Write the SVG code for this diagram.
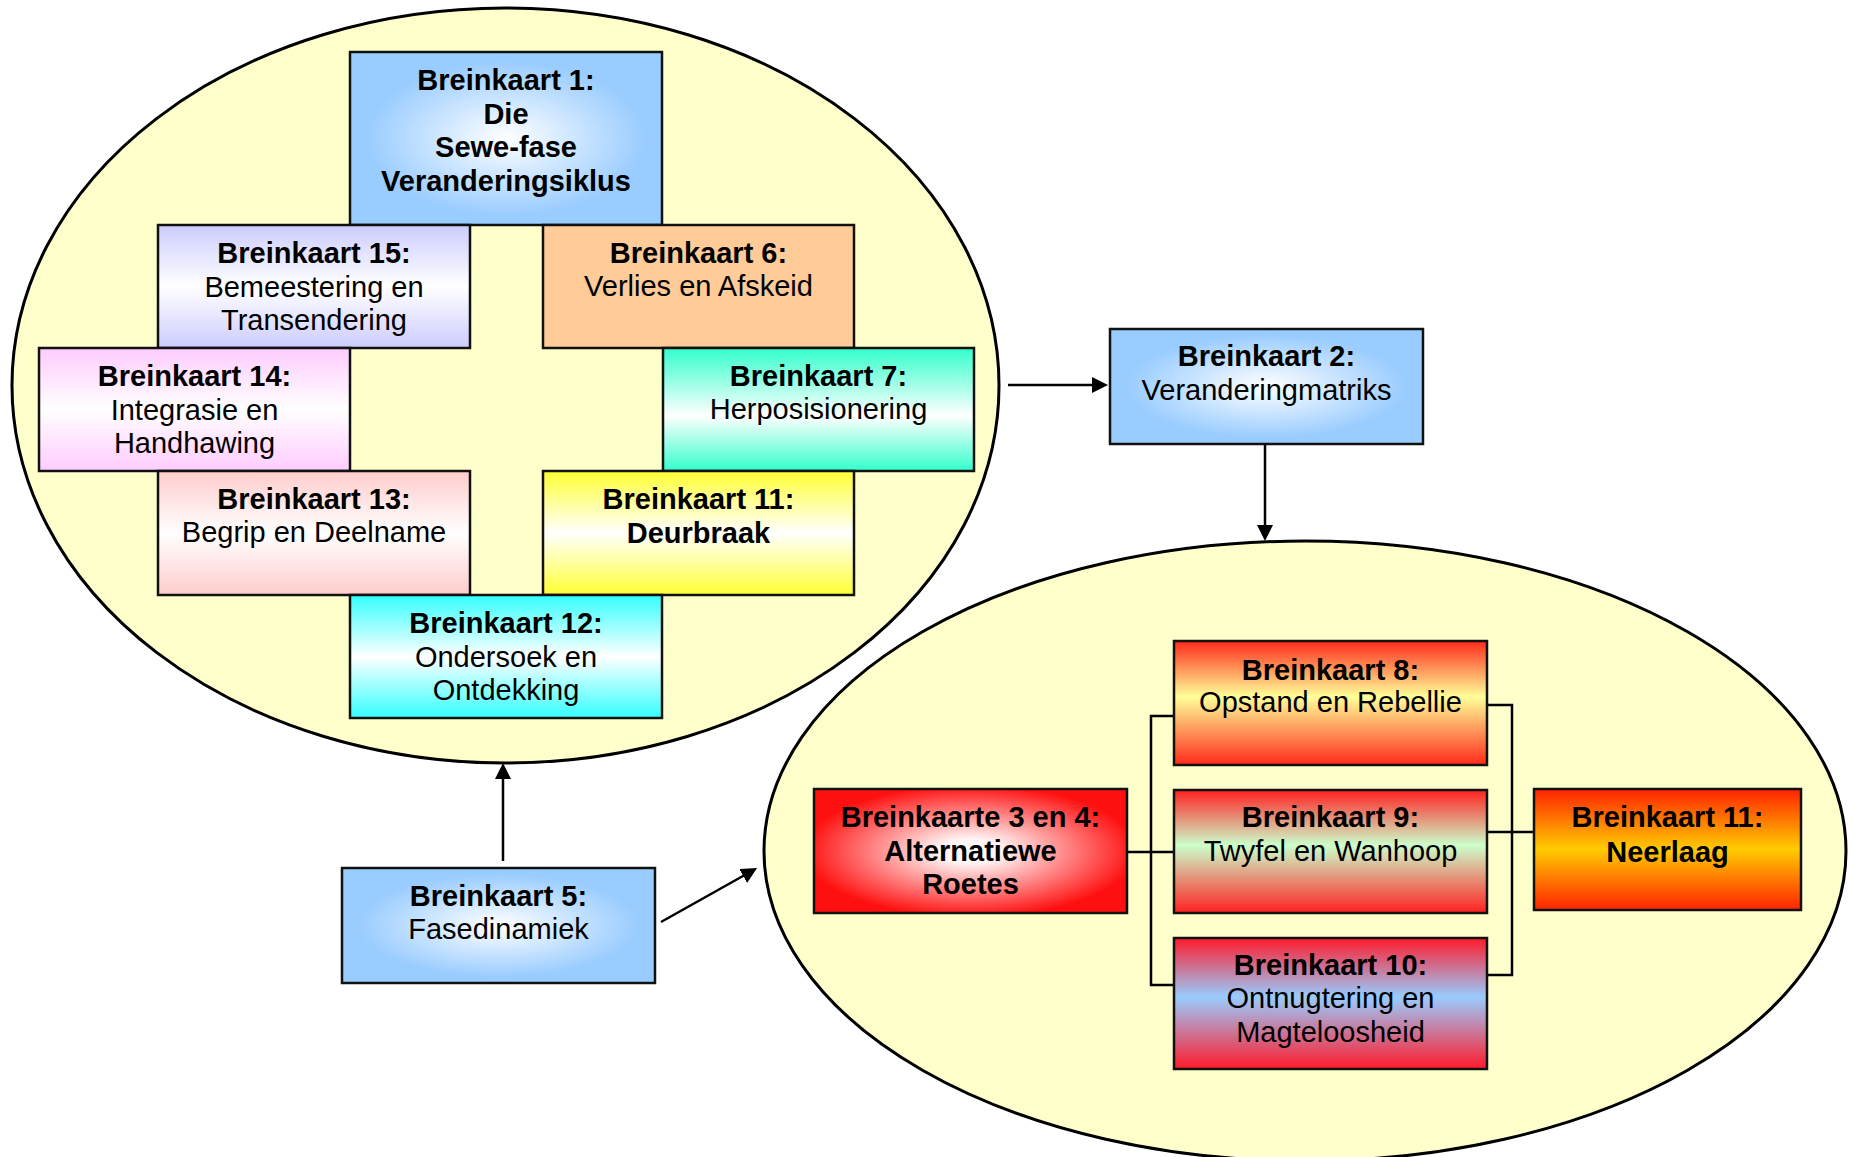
<svg xmlns="http://www.w3.org/2000/svg" width="1854" height="1157" viewBox="0 0 1854 1157">
  <defs>
    <style>
      .oval { fill: #FFFFCC; stroke: #000; stroke-width: 3; }
      .box { stroke: #111; stroke-width: 2.5; }
      .t { font-family: "Liberation Sans", Arial, Helvetica, sans-serif; font-size: 29px; text-anchor: middle; fill: #000; }
      .b { font-weight: bold; }
      .conn { stroke: #000; stroke-width: 2.5; fill: none; }
    </style>
    <!-- centre-out fades -->
    <radialGradient id="gBlue" cx="50%" cy="50%" r="60%">
      <stop offset="0" stop-color="#FFFFFF"/>
      <stop offset="0.75" stop-color="#99CCFF"/>
    </radialGradient>
    <radialGradient id="gRedWhite" cx="50%" cy="50%" r="65%">
      <stop offset="0" stop-color="#FFFFFF"/>
      <stop offset="0.15" stop-color="#FFF4F4"/>
      <stop offset="0.82" stop-color="#FF1010"/>
    </radialGradient>
    <!-- top/bottom fades through a middle colour -->
    <linearGradient id="gLav" x1="0" y1="0" x2="0" y2="1">
      <stop offset="0" stop-color="#CCCCFF"/>
      <stop offset="0.5" stop-color="#FFFFFF"/>
      <stop offset="1" stop-color="#CCCCFF"/>
    </linearGradient>
    <linearGradient id="gPink" x1="0" y1="0" x2="0" y2="1">
      <stop offset="0" stop-color="#FFCCFF"/>
      <stop offset="0.5" stop-color="#FFFFFF"/>
      <stop offset="1" stop-color="#FFCCFF"/>
    </linearGradient>
    <linearGradient id="gAqua" x1="0" y1="0" x2="0" y2="1">
      <stop offset="0" stop-color="#33FFCC"/>
      <stop offset="0.55" stop-color="#FFFFFF"/>
      <stop offset="1" stop-color="#33FFCC"/>
    </linearGradient>
    <linearGradient id="gRose" x1="0" y1="0" x2="0" y2="1">
      <stop offset="0" stop-color="#FFCCCC"/>
      <stop offset="0.5" stop-color="#FFFFFF"/>
      <stop offset="1" stop-color="#FFCCCC"/>
    </linearGradient>
    <linearGradient id="gYellow" x1="0" y1="0" x2="0" y2="1">
      <stop offset="0" stop-color="#FFFF33"/>
      <stop offset="0.5" stop-color="#FFFFFF"/>
      <stop offset="1" stop-color="#FFFF33"/>
    </linearGradient>
    <linearGradient id="gCyan" x1="0" y1="0" x2="0" y2="1">
      <stop offset="0" stop-color="#33FFFF"/>
      <stop offset="0.5" stop-color="#FFFFFF"/>
      <stop offset="1" stop-color="#33FFFF"/>
    </linearGradient>
    <linearGradient id="gRedCream" x1="0" y1="0" x2="0" y2="1">
      <stop offset="0" stop-color="#FF2A1A"/>
      <stop offset="0.45" stop-color="#FFFF99"/>
      <stop offset="1" stop-color="#FF2A1A"/>
    </linearGradient>
    <linearGradient id="gRedMint" x1="0" y1="0" x2="0" y2="1">
      <stop offset="0" stop-color="#FF2020"/>
      <stop offset="0.45" stop-color="#CCFFCC"/>
      <stop offset="1" stop-color="#FF2020"/>
    </linearGradient>
    <linearGradient id="gRedSky" x1="0" y1="0" x2="0" y2="1">
      <stop offset="0" stop-color="#FF1A2A"/>
      <stop offset="0.45" stop-color="#99CCFF"/>
      <stop offset="1" stop-color="#FF1A2A"/>
    </linearGradient>
    <linearGradient id="gFire" x1="0" y1="0" x2="0" y2="1">
      <stop offset="0" stop-color="#FF2200"/>
      <stop offset="0.5" stop-color="#FFCC00"/>
      <stop offset="1" stop-color="#FF2200"/>
    </linearGradient>
    <marker id="arrow" markerUnits="userSpaceOnUse" viewBox="0 0 16 16" markerWidth="16" markerHeight="16" refX="9" refY="8" orient="auto">
      <path d="M0,0 L16,8 L0,16 z" fill="#000"/>
    </marker>
  </defs>

  <rect x="0" y="0" width="1854" height="1157" fill="#FFFFFF"/>

  <!-- seven-phase cycle container -->
  <g id="cycle-oval">
    <ellipse class="oval" cx="505.5" cy="385.5" rx="493.5" ry="377.5"/>
  </g>

  <!-- alternative routes container (runs off the bottom edge) -->
  <g id="routes-oval">
    <ellipse class="oval" cx="1305" cy="851" rx="541" ry="310"/>
  </g>

  <!-- connectors -->
  <g id="connectors">
    <line class="conn" x1="1008" y1="385" x2="1101" y2="385" marker-end="url(#arrow)"/>
    <line class="conn" x1="1265" y1="445" x2="1265" y2="534" marker-end="url(#arrow)"/>
    <line class="conn" x1="503" y1="861" x2="503" y2="770" marker-end="url(#arrow)"/>
    <line class="conn" x1="661" y1="922" x2="751" y2="871.5" marker-end="url(#arrow)"/>
    <!-- fan-out from routes 3/4 to maps 8, 9, 10 -->
    <polyline class="conn" points="1174,716 1151,716 1151,985 1174,985"/>
    <line class="conn" x1="1127" y1="852" x2="1174" y2="852"/>
    <!-- fan-in from maps 8, 9, 10 to map 11 -->
    <polyline class="conn" points="1487,705 1512,705 1512,975 1487,975"/>
    <line class="conn" x1="1487" y1="832" x2="1534" y2="832"/>
  </g>

  <g id="node-bk1">
    <rect class="box" x="350" y="52" width="312" height="173" fill="url(#gBlue)"/>
    <text class="t b" x="506" y="90">Breinkaart 1:</text>
    <text class="t b" x="506" y="124">Die</text>
    <text class="t b" x="506" y="157">Sewe-fase</text>
    <text class="t b" x="506" y="191">Veranderingsiklus</text>
  </g>

  <g id="node-bk15">
    <rect class="box" x="158" y="225" width="312" height="123" fill="url(#gLav)"/>
    <text class="t b" x="314" y="263">Breinkaart 15:</text>
    <text class="t" x="314" y="297">Bemeestering en</text>
    <text class="t" x="314" y="330">Transendering</text>
  </g>

  <g id="node-bk6">
    <rect class="box" x="543" y="225" width="311" height="123" fill="#FFCC99"/>
    <text class="t b" x="698.5" y="263">Breinkaart 6:</text>
    <text class="t" x="698.5" y="296">Verlies en Afskeid</text>
  </g>

  <g id="node-bk14">
    <rect class="box" x="39" y="348" width="311" height="123" fill="url(#gPink)"/>
    <text class="t b" x="194.5" y="386">Breinkaart 14:</text>
    <text class="t" x="194.5" y="420">Integrasie en</text>
    <text class="t" x="194.5" y="453">Handhawing</text>
  </g>

  <g id="node-bk7">
    <rect class="box" x="663" y="348" width="311" height="123" fill="url(#gAqua)"/>
    <text class="t b" x="818.5" y="386">Breinkaart 7:</text>
    <text class="t" x="818.5" y="419">Herposisionering</text>
  </g>

  <g id="node-bk13">
    <rect class="box" x="158" y="471" width="312" height="124" fill="url(#gRose)"/>
    <text class="t b" x="314" y="509">Breinkaart 13:</text>
    <text class="t" x="314" y="542">Begrip en Deelname</text>
  </g>

  <g id="node-bk11-deurbraak">
    <rect class="box" x="543" y="471" width="311" height="124" fill="url(#gYellow)"/>
    <text class="t b" x="698.5" y="509">Breinkaart 11:</text>
    <text class="t b" x="698.5" y="543">Deurbraak</text>
  </g>

  <g id="node-bk12">
    <rect class="box" x="350" y="595" width="312" height="123" fill="url(#gCyan)"/>
    <text class="t b" x="506" y="633">Breinkaart 12:</text>
    <text class="t" x="506" y="667">Ondersoek en</text>
    <text class="t" x="506" y="700">Ontdekking</text>
  </g>

  <g id="node-bk2">
    <rect class="box" x="1110" y="329" width="313" height="115" fill="url(#gBlue)"/>
    <text class="t b" x="1266.5" y="366">Breinkaart 2:</text>
    <text class="t" x="1266.5" y="400">Veranderingmatriks</text>
  </g>

  <g id="node-bk5">
    <rect class="box" x="342" y="868" width="313" height="115" fill="url(#gBlue)"/>
    <text class="t b" x="498.5" y="906">Breinkaart 5:</text>
    <text class="t" x="498.5" y="939">Fasedinamiek</text>
  </g>

  <g id="node-bk3-4">
    <rect class="box" x="814" y="789" width="313" height="124" fill="url(#gRedWhite)"/>
    <text class="t b" x="970.5" y="827">Breinkaarte 3 en 4:</text>
    <text class="t b" x="970.5" y="861">Alternatiewe</text>
    <text class="t b" x="970.5" y="894">Roetes</text>
  </g>

  <g id="node-bk8">
    <rect class="box" x="1174" y="641" width="313" height="124" fill="url(#gRedCream)"/>
    <text class="t b" x="1330.5" y="680">Breinkaart 8:</text>
    <text class="t" x="1330.5" y="712">Opstand en Rebellie</text>
  </g>

  <g id="node-bk9">
    <rect class="box" x="1174" y="790" width="313" height="123" fill="url(#gRedMint)"/>
    <text class="t b" x="1330.5" y="827">Breinkaart 9:</text>
    <text class="t" x="1330.5" y="861">Twyfel en Wanhoop</text>
  </g>

  <g id="node-bk10">
    <rect class="box" x="1174" y="938" width="313" height="131" fill="url(#gRedSky)"/>
    <text class="t b" x="1330.5" y="975">Breinkaart 10:</text>
    <text class="t" x="1330.5" y="1008">Ontnugtering en</text>
    <text class="t" x="1330.5" y="1042">Magteloosheid</text>
  </g>

  <g id="node-bk11-neerlaag">
    <rect class="box" x="1534" y="789" width="267" height="121" fill="url(#gFire)"/>
    <text class="t b" x="1667.5" y="827">Breinkaart 11:</text>
    <text class="t b" x="1667.5" y="862">Neerlaag</text>
  </g>
</svg>
